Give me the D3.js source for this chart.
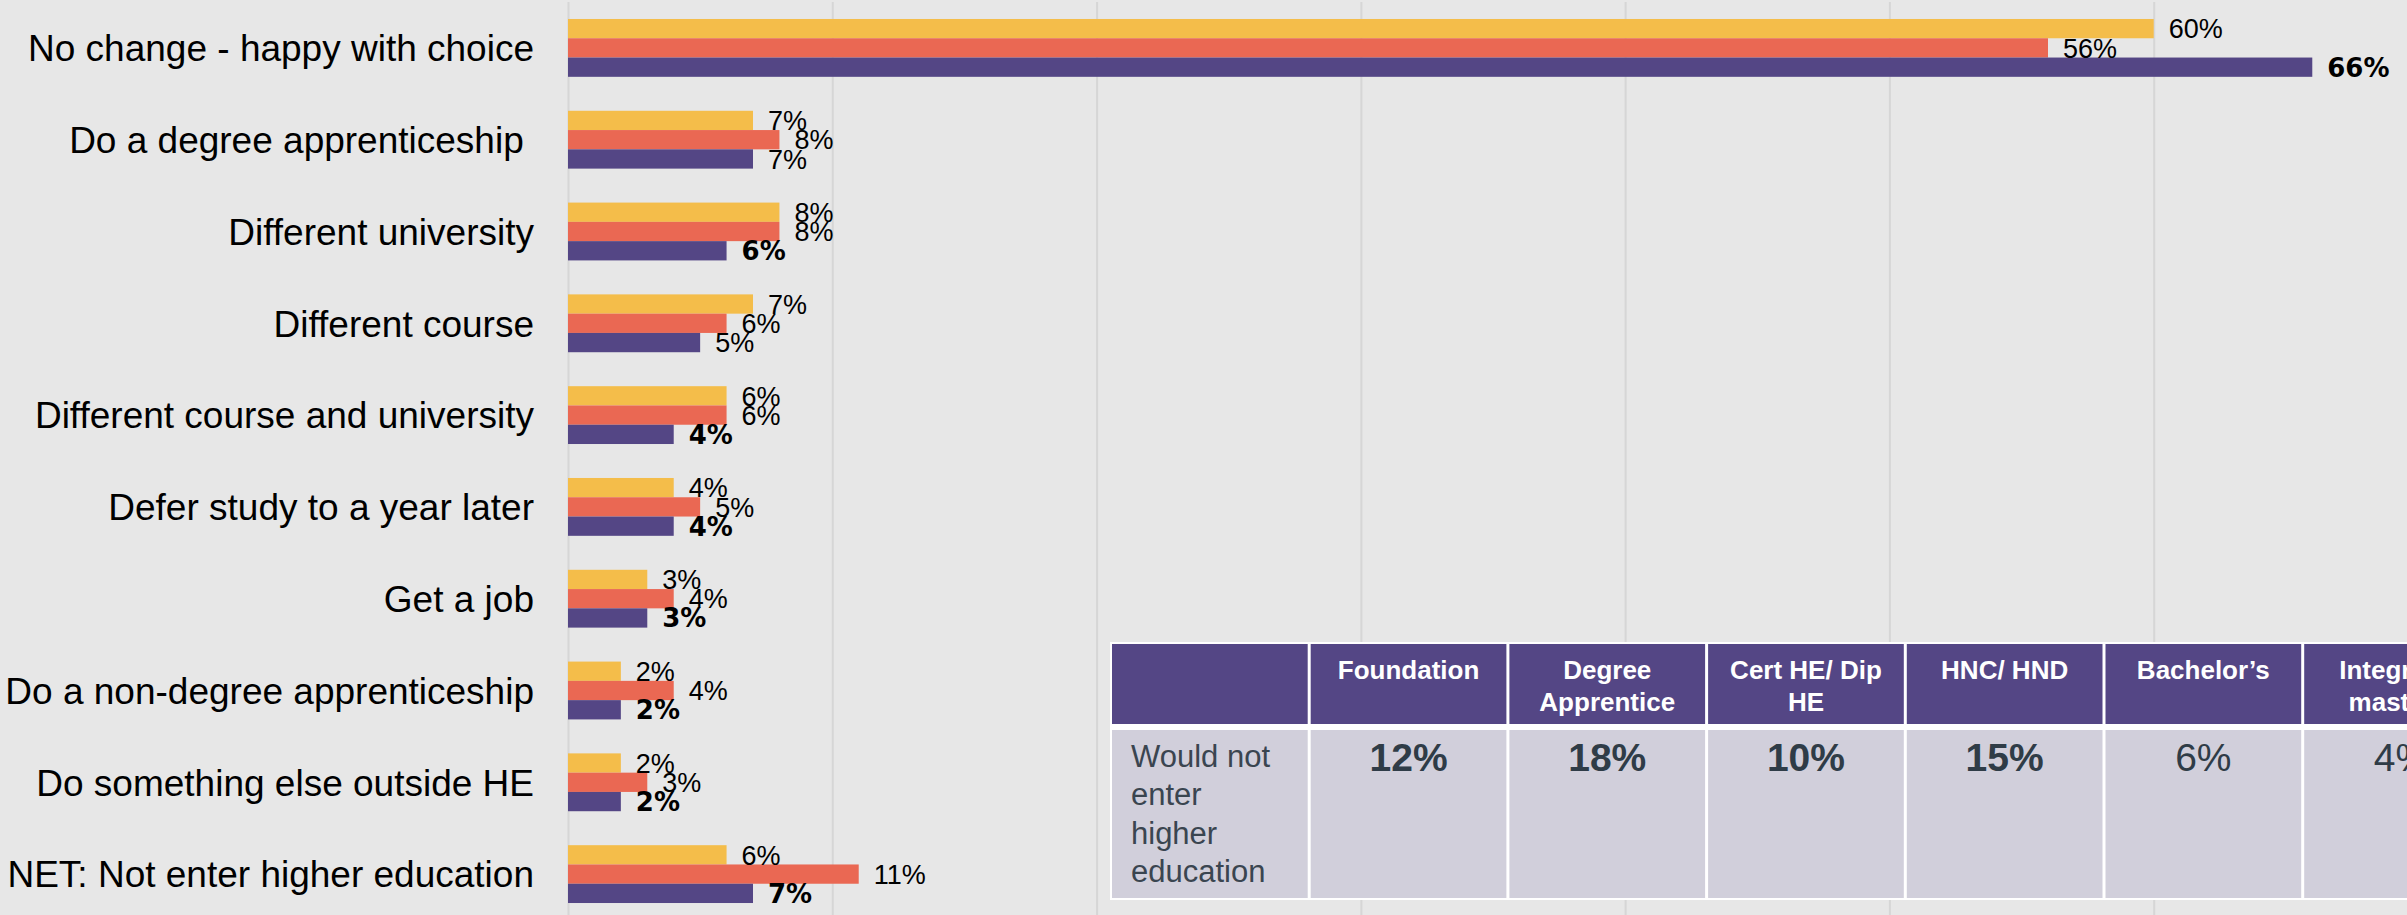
<!DOCTYPE html>
<html>
<head>
<meta charset="utf-8">
<script src="https://cdn.jsdelivr.net/npm/d3@7"></script>
<style>
  html, body { margin: 0; padding: 0; background: #e7e7e7; overflow: hidden; }
  svg { display: block; font-family: "Liberation Sans", Arial, sans-serif; }
</style>
</head>
<body>
<div id="container"></div>
<script>
var width = 2407;
var height = 915;

// chart data
var categories = ["No change - happy with choice", "Do a degree apprenticeship ", "Different university",
  "Different course", "Different course and university", "Defer study to a year later", "Get a job",
  "Do a non-degree apprenticeship", "Do something else outside HE", "NET: Not enter higher education"];
var seriesYellow = [60, 7, 8, 7, 6, 4, 3, 2, 2, 6];
var seriesRed    = [56, 8, 8, 6, 6, 5, 4, 4, 3, 11];
var seriesPurple = [66, 7, 6, 5, 4, 4, 3, 2, 2, 7];
var purpleBold   = [true, false, true, false, true, true, true, true, true, true];
var xTicks = [0, 10, 20, 30, 40, 50, 60, 70];

// table data
var tableHeaders = [[""], ["Foundation"], ["Degree", "Apprentice"], ["Cert HE/ Dip", "HE"], ["HNC/ HND"], ["Bachelor\u2019s"], ["Integrated", "master\u2019s"]];
var tableRowLabel = ["Would not", "enter", "higher", "education"];
var tableValues = ["12%", "18%", "10%", "15%", "6%", "4%"];
var tableBold   = [true, true, true, true, false, false];

var colors = ["#f4bd4a", "#ea6853", "#544685"];

const SVG = d3.select("#container")
              .append("svg")
              .attr("width", width)
              .attr("height", height);

SVG.append("rect").attr("width", width).attr("height", height).attr("fill", "#e7e7e7");

const x = d3.scaleLinear().domain([0, 70]).range([568, 2418]);
const y = d3.scaleBand().domain(categories).range([2, 920]).paddingInner(0.37).paddingOuter(0.185);
const yInner = d3.scaleBand().domain([0, 1, 2]).range([0, y.bandwidth()]);

// gridlines
SVG.append("g")
   .attr("transform", "translate(0,2)")
   .call(d3.axisTop(x).tickValues(xTicks).tickSize(-height).tickFormat(""))
   .call(g => g.select(".domain").remove())
   .call(g => g.selectAll(".tick line").attr("stroke", "#d6d6d6").attr("stroke-width", 2));

var rows = categories.map((c, i) => ({
  cat: c,
  vals: [seriesYellow[i], seriesRed[i], seriesPurple[i]],
  bold: [false, false, purpleBold[i]]
}));

const GROUP = SVG.selectAll(".grp")
                 .data(rows)
                 .enter()
                 .append("g")
                 .attr("class", "grp")
                 .attr("transform", d => `translate(0,${y(d.cat)})`);

GROUP.selectAll("rect")
     .data(d => d.vals)
     .enter()
     .append("rect")
     .attr("x", x(0))
     .attr("y", (d, i) => yInner(i))
     .attr("width", d => x(d) - x(0))
     .attr("height", yInner.bandwidth())
     .attr("fill", (d, i) => colors[i]);

GROUP.selectAll(".lbl")
     .data(d => d.vals.map((v, i) => ({v: v, i: i, bold: d.bold[i]})))
     .enter()
     .append("text")
     .attr("class", "lbl")
     .attr("x", d => x(d.v) + 15)
     .attr("y", d => yInner(d.i) + yInner.bandwidth() / 2)
     .attr("dy", "0.36em")
     .style("font-family", d => d.bold ? "'DejaVu Sans', sans-serif" : "'Liberation Sans', Arial, sans-serif")
     .style("font-weight", d => d.bold ? "bold" : "normal")
     .style("font-size", d => d.bold ? "26px" : "27px")
     .attr("fill", "#000")
     .text(d => d.v + "%");

// category labels
SVG.selectAll(".cat")
   .data(categories)
   .enter()
   .append("text")
   .attr("class", "cat")
   .attr("x", 534)
   .attr("y", d => y(d) + y.bandwidth() / 2)
   .attr("dy", "0.36em")
   .attr("text-anchor", "end")
   .style("white-space", "pre")
   .style("font-size", "37px")
   .attr("fill", "#000")
   .text(d => d);

// table
var tX = 1110, tY = 642, colW = 198.7, headH = 80, bodyTop = 730, bodyBottom = 898;
const TABLE = SVG.append("g");

TABLE.append("rect")
     .attr("x", tX).attr("y", tY)
     .attr("width", colW * tableHeaders.length + 4).attr("height", bodyBottom - tY + 2)
     .attr("fill", "#ffffff");

const COL = TABLE.selectAll(".col")
                 .data(tableHeaders)
                 .enter()
                 .append("g")
                 .attr("class", "col")
                 .attr("transform", (d, i) => `translate(${tX + 2 + i * colW},0)`);

COL.append("rect")
   .attr("x", 0).attr("y", tY + 2)
   .attr("width", colW - 3).attr("height", headH)
   .attr("fill", "#544685");

COL.append("rect")
   .attr("x", 0).attr("y", bodyTop)
   .attr("width", colW - 3).attr("height", bodyBottom - bodyTop)
   .attr("fill", "#d1cfdb");

COL.append("text")
   .attr("x", (colW - 3) / 2)
   .attr("text-anchor", "middle")
   .attr("fill", "#ffffff")
   .style("font-weight", "bold")
   .style("font-size", "26px")
   .selectAll("tspan")
   .data(d => d)
   .enter()
   .append("tspan")
   .attr("x", (colW - 3) / 2)
   .attr("y", (d, i) => 679 + i * 31.5)
   .text(d => d);

COL.filter((d, i) => i > 0)
   .append("text")
   .attr("x", (colW - 3) / 2)
   .attr("y", 771)
   .attr("text-anchor", "middle")
   .attr("fill", "#2f3c47")
   .style("font-size", "39px")
   .style("font-weight", (d, i) => tableBold[i] ? "bold" : "normal")
   .text((d, i) => tableValues[i]);

TABLE.append("text")
     .attr("fill", "#3a4550")
     .style("font-size", "31px")
     .selectAll("tspan")
     .data(tableRowLabel)
     .enter()
     .append("tspan")
     .attr("x", 1131)
     .attr("y", (d, i) => 767 + i * 38.4)
     .text(d => d);
</script>
</body>
</html>
